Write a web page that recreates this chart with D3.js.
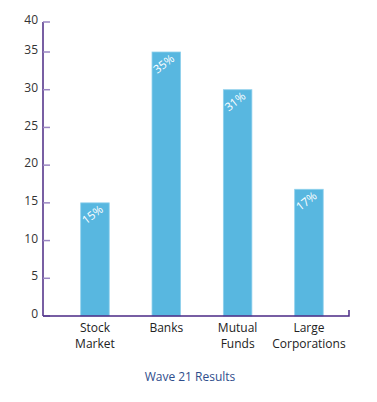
<!DOCTYPE html>
<html>
<head>
<meta charset="utf-8">
<script src="https://cdn.jsdelivr.net/npm/d3@7"></script>
<style>
  body { margin: 0; background: #fff; }
  svg { font-family: "Open Sans", sans-serif; }
</style>
</head>
<body>
<div id="chart"></div>
<script>
let categories = [["Stock", "Market"], ["Banks"], ["Mutual", "Funds"], ["Large", "Corporations"]],
    values = [15, 35, 30, 16.8],
    pctLabels = ["15%", "35%", "31%", "17%"],
    yTicks = [0, 5, 10, 15, 20, 25, 30, 35, 40],
    title = "Wave 21 Results";

let width = 377,
    height = 402,
    axisLeft = 43,
    axisRight = 349,
    axisBottom = 316;

let svg = d3.select('#chart').append('svg')
    .attr('width', width)
    .attr('height', height);

// top tick sits closer than the others in the original, so piecewise
let yScale = d3.scaleLinear()
    .domain([0, 35, 40])
    .range([axisBottom, 52, 22]);

let xScale = d3.scaleBand()
    .domain(d3.range(categories.length))
    .range([59.3, 344.6])
    .paddingInner(0.6)
    .paddingOuter(0.3);

// bars
svg.append('g')
    .selectAll('rect')
    .data(values)
    .join('rect')
    .attr('x', (d, i) => xScale(i))
    .attr('y', d => yScale(d))
    .attr('width', xScale.bandwidth())
    .attr('height', d => axisBottom - yScale(d))
    .attr('fill', '#58b7e0')
    .attr('stroke', '#8fd0ec')
    .attr('stroke-width', 0.8);

// pct labels
svg.append('g')
    .selectAll('text')
    .data(values)
    .join('text')
    .attr('transform', (d, i) => `translate(${xScale(i) + xScale.bandwidth() / 2}, ${yScale(d) + 15}) rotate(-38)`)
    .attr('text-anchor', 'middle')
    .attr('fill', '#fff')
    .attr('font-size', '11.5px')
    .text((d, i) => pctLabels[i]);

// y axis
let yAxis = svg.append('g')
    .attr('transform', `translate(${axisLeft}, 0)`);

yAxis.append('line')
    .attr('y1', yScale(40))
    .attr('y2', axisBottom)
    .attr('stroke', '#4b2a85')
    .attr('stroke-width', 1.5);

yAxis.selectAll('.tick')
    .data(yTicks)
    .join('line')
    .attr('class', 'tick')
    .attr('x1', 0)
    .attr('x2', 7)
    .attr('y1', d => yScale(d))
    .attr('y2', d => yScale(d))
    .attr('stroke', '#9a86c2')
    .attr('stroke-width', 1.5);

yAxis.selectAll('.lbl')
    .data(yTicks)
    .join('text')
    .attr('class', 'lbl')
    .attr('x', -5)
    .attr('y', d => yScale(d) - 2)
    .attr('dy', '0.35em')
    .attr('text-anchor', 'end')
    .attr('font-size', '12px')
    .attr('fill', '#333')
    .text(d => d);

// x axis
svg.append('path')
    .attr('d', `M${axisLeft},${axisBottom}H${axisRight}V${axisBottom - 6}`)
    .attr('fill', 'none')
    .attr('stroke', '#4b2a85')
    .attr('stroke-width', 1.5);

let catText = svg.append('g')
    .selectAll('text')
    .data(categories)
    .join('text')
    .attr('text-anchor', 'middle')
    .attr('font-size', '12px')
    .attr('fill', '#222')
    .attr('transform', (d, i) => `translate(${xScale(i) + xScale.bandwidth() / 2}, ${axisBottom + 16})`);

catText.selectAll('tspan')
    .data(d => d)
    .join('tspan')
    .attr('x', 0)
    .attr('y', (d, i) => i * 16)
    .text(d => d);

svg.append('text')
    .attr('x', 190)
    .attr('y', 381)
    .attr('text-anchor', 'middle')
    .attr('font-size', '12px')
    .attr('fill', '#2f4d8c')
    .text(title);
</script>
</body>
</html>
